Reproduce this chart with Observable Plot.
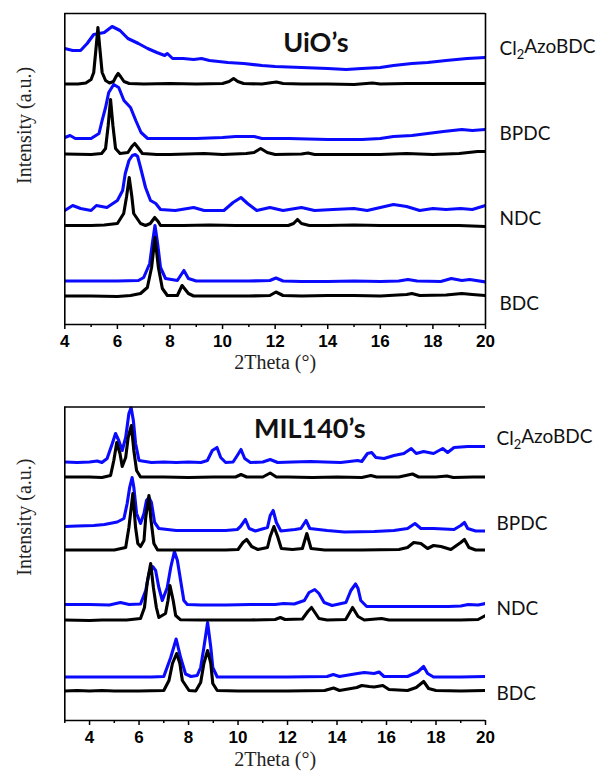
<!DOCTYPE html>
<html><head><meta charset="utf-8">
<script src="https://cdn.jsdelivr.net/npm/d3@7"></script>
<script src="https://cdn.jsdelivr.net/npm/@observablehq/plot@0.6"></script>
<style>
html,body{margin:0;padding:0;background:#fff;}
#chart{width:600px;height:774px;}
#chart svg{display:block;}
</style></head><body><div id="chart"></div>
<script>
// ---------- DATA (2Theta in degrees, intensity in arbitrary units, stacked) ----------
const linkers = ["Cl2AzoBDC", "BPDC", "NDC", "BDC"];
const panelTitles = ["UiO’s", "MIL140’s"];
const uioTicks = [4, 6, 8, 10, 12, 14, 16, 18, 20];
const milTicks = [4, 6, 8, 10, 12, 14, 16, 18, 20];

// UiO's — experimental (blue)
const uioCl2Exp = [[4.0,276],[4.3,274],[4.6,274],[4.85,281],[5.1,290],[5.3,291],[5.5,292],[5.8,298],[6.1,294],[6.4,286],[6.8,281],[7.15,276],[7.5,272],[7.8,269],[7.9,271],[8.1,266],[8.5,266],[8.9,265],[9.2,266],[9.5,264],[10.2,262],[10.8,261],[11.5,259],[12,258],[13,257],[14,256],[14.7,255],[15.3,256],[16,257],[16.5,259],[17.2,261],[17.8,262],[18.5,264],[19.3,266],[20,267]];
const uioBPDCExp = [[4.0,187],[4.2,189],[4.4,186],[5.0,186],[5.3,191],[5.42,204],[5.55,217],[5.67,232],[5.86,240],[6.05,237],[6.25,224],[6.5,217],[6.7,204],[6.9,192],[7.15,186],[8,186],[9,186],[10,187],[10.5,188],[11.2,188],[11.5,186],[12.5,186],[14,185],[15.3,185],[16,186],[16.5,188],[17.2,189],[17.8,191],[18.4,193],[19.1,195],[19.5,194],[20,195]];
const uioNDCExp = [[4.0,114],[4.3,119],[4.6,116],[5.0,114],[5.2,119],[5.6,117],[6.0,124],[6.2,134],[6.3,151],[6.44,164],[6.57,169],[6.68,170],[6.77,168],[6.88,157],[7.07,137],[7.26,124],[7.46,121],[7.64,115],[8.2,114],[8.9,117],[9.3,114],[10.05,114],[10.4,122],[10.7,127],[10.95,121],[11.3,114],[11.8,117],[12.3,114],[13,117],[13.5,114],[14.2,115],[15,116],[15.5,114],[16,117],[16.5,120],[17,118],[17.5,114],[18,116],[18.5,115],[19.05,116],[19.5,115],[20,119]];
const uioBDCExp = [[4.0,43.5],[5,43.5],[6,43.5],[6.8,44],[7.0,47],[7.23,61],[7.33,81],[7.43,99],[7.53,81],[7.64,57],[7.83,46],[8.28,44],[8.53,54],[8.7,46],[9,43.5],[10,43.5],[11,43.5],[11.8,44],[12.03,46.5],[12.3,43.5],[13,43],[14,43],[15,43.5],[16,43],[16.7,43.5],[17.05,45],[17.4,43.5],[18.3,43],[18.7,46],[19.1,44],[19.4,45],[20,42.5]];

// UiO's — simulated (black)
const uioCl2Sim = [[4.0,240.5],[4.5,240.5],[4.8,241.5],[5.0,245],[5.1,252],[5.18,274],[5.26,297],[5.34,274],[5.42,252],[5.55,244],[5.7,241.5],[5.85,243],[5.95,248],[6.03,251],[6.12,248],[6.25,243],[6.45,241],[7,240.5],[8,241],[9,240.5],[10,241],[10.25,243],[10.42,246],[10.58,243],[10.8,241],[11.5,240.5],[11.9,242],[12.05,242.5],[12.3,241],[13,240.5],[14,240.5],[15,240],[15.7,241.5],[16,240.5],[17,241],[18,241],[19,241],[20,241]];
const uioBPDCSim = [[4.0,170.5],[5,170],[5.4,171],[5.55,176],[5.65,199],[5.74,225],[5.83,199],[5.93,176],[6.1,171],[6.4,172],[6.55,178],[6.66,181],[6.78,177],[6.95,171],[7.5,170],[8,170],[9.3,171],[10,170],[10.9,171],[11.2,172],[11.45,176],[11.7,172],[12,170],[13,170.5],[13.25,171.5],[13.5,170],[15,170],[16,170],[17,171],[18,170],[19,171],[19.7,173],[20,173]];
const uioNDCSim = [[4.0,99],[5.0,99],[5.5,99.5],[6.0,101],[6.24,111],[6.35,128],[6.45,147],[6.55,128],[6.62,111],[6.88,101],[7.07,99],[7.25,101],[7.42,107],[7.55,103],[7.64,99],[8.5,99],[9.5,99.5],[10.5,99],[11.5,99],[12.5,99],[12.7,101],[12.85,105],[13.0,101],[13.3,99],[14,99],[15,99.5],[16,99],[17,99],[18,99],[19,99],[20,98]];
const uioBDCSim = [[4.0,28.5],[5,28.5],[6,28],[6.5,29],[6.88,31],[7.14,37],[7.3,57],[7.43,87],[7.56,57],[7.71,36],[7.9,29],[8.28,29],[8.46,39],[8.7,31],[8.9,28.5],[10,28.5],[11,28.5],[11.8,29],[12.03,32.5],[12.3,29],[13,28.5],[14,29],[15,29],[16,28.5],[17,30],[17.2,31],[17.5,29],[18.5,29.5],[19.1,31],[19.5,30],[20,29]];

// MIL140's — experimental (blue)
const milCl2Exp = [[3.0,258.5],[3.5,258],[4.0,258.5],[4.31,259.5],[4.5,258],[4.71,262],[4.92,277],[5.05,287],[5.18,280],[5.32,270],[5.46,283],[5.59,307],[5.68,313],[5.77,300],[5.86,277],[6.0,260],[6.5,258],[7,258.5],[7.5,258],[8,258.5],[8.5,258],[8.76,260],[8.96,270],[9.15,273],[9.3,263],[9.5,258],[9.8,258.5],[9.97,265],[10.12,271],[10.27,262],[10.5,258],[11,258.5],[11.3,261],[11.6,258],[12.2,258.5],[12.94,259],[13.5,258.5],[14.15,258],[14.5,259],[14.83,260],[15.0,259],[15.23,267],[15.4,268],[15.57,263],[15.9,262],[16.3,265],[16.7,267],[17.0,272],[17.2,267],[17.5,269],[17.9,267],[18.27,272],[18.47,268],[18.73,273],[19.28,274],[20,274]];
const milBPDCExp = [[3.0,194],[3.5,194.5],[4.17,195],[4.6,196],[5.12,198.5],[5.39,202],[5.52,217],[5.62,233],[5.72,243],[5.79,233],[5.9,207],[6.06,197],[6.2,207],[6.3,220],[6.4,223],[6.5,218],[6.63,198],[6.8,192],[7.5,190],[8.5,190],[9.5,190],[9.97,191],[10.1,194],[10.3,201],[10.45,192],[10.7,189.5],[11.19,193],[11.3,205],[11.42,210],[11.55,198],[11.73,189.5],[12.3,191],[12.54,192],[12.75,200],[12.9,192],[13.6,190],[14.3,188.5],[15.5,189],[16.3,190],[16.85,192],[17.15,197],[17.39,192],[17.9,192],[18.73,191],[19.0,195],[19.15,198],[19.28,192],[19.6,189.5],[20,189.5]];
const milNDCExp = [[3.0,116],[4.0,116],[4.8,115.5],[5.25,118],[5.6,116],[6.06,116.5],[6.27,130],[6.4,147],[6.55,154],[6.67,150],[6.8,133],[6.94,120],[7.14,133],[7.28,153],[7.43,169],[7.55,160],[7.68,140],[7.81,120],[7.95,116],[8.5,115.5],[9.5,115.5],[10.5,116],[11.5,116],[11.84,117],[12.27,116.5],[12.68,120],[12.87,128],[13.1,131],[13.27,127],[13.48,118],[13.8,115],[14.36,118],[14.56,130],[14.75,136.5],[14.85,132],[14.96,120],[15.2,114],[16.5,114],[17.5,114],[18.5,114],[19.0,114.5],[19.3,116],[19.7,115.5],[20,117]];
const milBDCExp = [[3.0,43.5],[5,43.5],[6.5,43.5],[7.0,44],[7.28,63],[7.5,81.5],[7.68,63],[7.88,46.5],[8.1,44],[8.35,45],[8.49,53],[8.62,73],[8.77,98],[8.9,73],[8.98,53],[9.16,43.5],[10,43.5],[11,43.5],[12,43.5],[13.6,44],[13.85,46],[14.1,44],[14.83,47],[15.1,48],[15.5,47],[15.7,48.5],[15.9,44],[16.85,44],[17.26,48.5],[17.5,54],[17.66,47],[17.9,43.5],[19,43.5],[20,44]];

// MIL140's — simulated (black)
const milCl2Sim = [[3.0,243.5],[4,243.5],[4.5,243],[4.85,245],[4.98,260],[5.1,278],[5.23,267],[5.32,254],[5.46,263],[5.56,283],[5.69,295],[5.79,270],[5.9,250],[6.06,243.5],[7,243.5],[8,243],[9,243.5],[9.9,243.5],[10.12,246],[10.35,243.5],[11.0,243.5],[11.3,247.5],[11.55,243.5],[12,243.5],[13,243],[14,243.5],[15,243],[15.37,245],[15.6,243.5],[16.5,243.5],[17.05,246.5],[17.3,243.5],[18,243.5],[18.44,244.5],[18.7,243],[19.5,243.5],[20,243.5]];
const milBPDCSim = [[3.0,170.5],[4,170.5],[5,170.5],[5.46,173],[5.59,193],[5.75,227],[5.86,193],[5.95,177],[6.06,174],[6.2,180],[6.27,203],[6.4,225],[6.47,203],[6.6,177],[6.75,170.5],[7.5,170.5],[8.5,170.5],[9.5,170.5],[10.0,171],[10.2,178],[10.35,181],[10.55,174],[10.8,171],[11.19,173],[11.3,184],[11.45,194],[11.6,184],[11.75,172],[12.2,171],[12.6,172],[12.78,187],[12.95,172],[13.5,170.5],[14.3,170.5],[15,170.5],[16.5,171],[16.85,173],[17.1,178],[17.39,177],[17.66,172],[17.9,175],[18.2,174],[18.6,171],[19.0,178],[19.15,181],[19.33,173],[19.6,170.5],[20,170.5]];
const milNDCSim = [[3.0,100.5],[4,100],[4.5,100.5],[5.5,100.5],[6.06,102],[6.22,113],[6.33,138],[6.47,157],[6.58,133],[6.7,113],[6.8,103],[7.07,107],[7.17,120],[7.25,135],[7.38,120],[7.48,105],[7.68,100.7],[8.5,100.5],[9.5,100.5],[10.5,100.5],[11.5,101],[11.71,103],[11.9,101],[12.6,101.5],[12.82,109],[12.97,113],[13.27,102],[13.6,100.5],[14.35,101],[14.63,113],[14.85,104],[15.1,100.5],[15.8,102],[16.1,100.5],[17,100.5],[18,100.5],[19,100.5],[19.7,101],[20,105]];
const milBDCSim = [[3.0,29.5],[3.5,30],[4.0,29.5],[4.5,30],[5,29.5],[6,29.5],[7.0,30],[7.21,40],[7.35,57],[7.52,67],[7.65,57],[7.75,40],[8.02,30],[8.29,29.5],[8.49,38],[8.62,57],[8.77,70],[8.9,57],[8.98,37],[9.16,30],[10,29.5],[11,29.5],[12,29.5],[13.5,30],[13.86,32.5],[14.1,30],[14.8,33],[15.0,35],[15.3,34],[15.5,33.5],[15.85,35],[16.1,31],[16.85,30],[17.2,33],[17.5,39],[17.7,32],[18,30],[19,29.5],[20,30]];

// ---------- LAYOUT ----------
const BLUE = "#0a0aff";
const panels = [
  {title: panelTitles[0], ticks: uioTicks, xDomain: [4, 20], yDomain: [0, 311], height: 390, mt: 13, mb: 66,
   exp: [uioCl2Exp, uioBPDCExp, uioNDCExp, uioBDCExp], sim: [uioCl2Sim, uioBPDCSim, uioNDCSim, uioBDCSim],
   labelY: [276, 191, 106, 21], labelDx: 14, titleX: 13.55, titleY: 281, rightRule: true, yLabelDy: 15, xLabelDy: 44},
  {title: panelTitles[1], ticks: milTicks, xDomain: [3, 20], yDomain: [0, 313.5], height: 384, mt: 16.5, mb: 54,
   exp: [milCl2Exp, milBPDCExp, milNDCExp, milBDCExp], sim: [milCl2Sim, milBPDCSim, milNDCSim, milBDCSim],
   labelY: [282, 197, 112, 27], labelDx: 11, titleX: 12.9, titleY: 291, rightRule: false, yLabelDy: 12, xLabelDy: 45}
];

function rows(list) {
  const out = [];
  list.forEach((arr, i) => arr.forEach(([t, v]) => out.push({linker: linkers[i], theta: t, I: v})));
  return out;
}

const container = document.getElementById("chart");
panels.forEach(p => {
  const minor = d3.range(Math.ceil(p.xDomain[0]), p.xDomain[1] + 0.5).filter(v => !p.ticks.includes(v));
  const [x0, x1] = p.xDomain, [y0, y1] = p.yDomain;
  const marks = [
    Plot.line(rows(p.exp), {x: "theta", y: "I", z: "linker", stroke: BLUE, strokeWidth: 3.1, strokeLinejoin: "round", clip: true}),
    Plot.line(rows(p.sim), {x: "theta", y: "I", z: "linker", stroke: "black", strokeWidth: 3.1, strokeLinejoin: "round", clip: true}),
    Plot.ruleX([x0], {stroke: "black", strokeWidth: 1.6}),
    Plot.ruleY([y0], {stroke: "black", strokeWidth: 1.6}),
    Plot.ruleY([y1], {stroke: "black", strokeWidth: 1.6}),
    Plot.axisX(p.ticks, {tickSize: 5, tickPadding: 5, fontSize: 17, fontWeight: "bold", fontFamily: "Liberation Sans, Arial, sans-serif", label: null, strokeWidth: 1.5}),
    Plot.axisX(minor, {tickSize: 3, tickFormat: () => "", label: null, strokeWidth: 1.5}),
    Plot.text(linkers, {frameAnchor: "right", y: (d, i) => p.labelY[i], text: d => d, dx: p.labelDx, textAnchor: "start", fontSize: 19, fontFamily: "Lato, sans-serif", fill: "#111"}),
    Plot.text([p.title], {x: p.titleX, y: p.titleY, text: d => d, fontSize: 27, fontWeight: "bold", fontFamily: "Lato, sans-serif", fill: "#111"}),
    Plot.text(["2Theta (°)"], {frameAnchor: "bottom", text: d => d, dy: p.xLabelDy, fontSize: 20, fontFamily: "Liberation Serif, Times New Roman, serif", fill: "#222"}),
    Plot.text(["Intensity (a.u.)"], {frameAnchor: "left", text: d => d, rotate: -90, dx: -40, dy: p.yLabelDy, fontSize: 20, fontFamily: "Liberation Serif, Times New Roman, serif", fill: "#222"})
  ];
  if (p.rightRule) marks.splice(3, 0, Plot.ruleX([x1], {stroke: "black", strokeWidth: 1.6}));
  const svg = Plot.plot({
    width: 600, height: p.height,
    marginTop: p.mt, marginBottom: p.mb, marginLeft: 64.3, marginRight: 115,
    x: {domain: p.xDomain},
    y: {domain: p.yDomain, axis: null},
    style: {background: "white", overflow: "visible"},
    marks
  });
  // subscript in Cl2AzoBDC
  d3.select(svg).selectAll("text").filter(function() { return this.textContent === "Cl2AzoBDC"; }).each(function() {
    const t = d3.select(this);
    t.text(null);
    t.append("tspan").text("Cl");
    t.append("tspan").attr("dy", "0.32em").attr("font-size", "0.68em").text("2");
    t.append("tspan").attr("dy", "-0.32em").text("AzoBDC");
  });
  container.appendChild(svg);
});
</script>
</body></html>
